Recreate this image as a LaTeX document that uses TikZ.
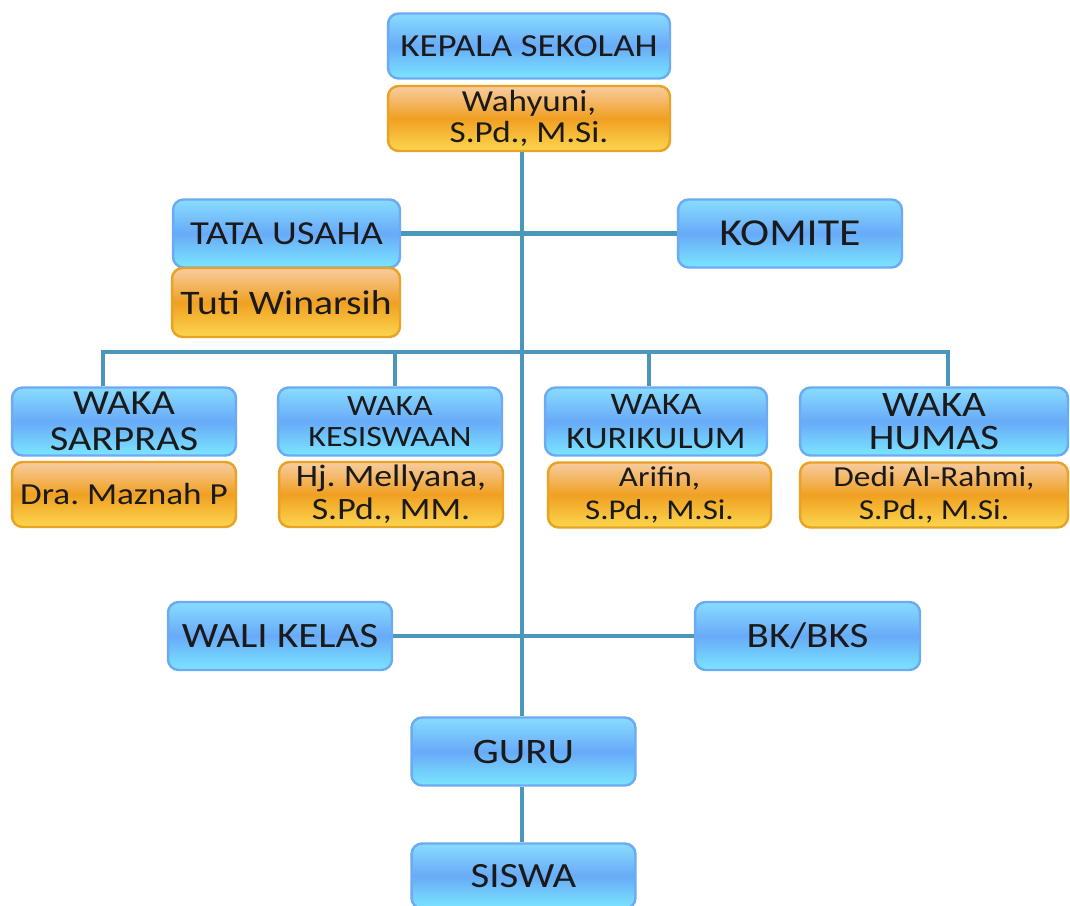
\documentclass[tikz,border=0pt]{standalone}
\usepackage{fontspec}
\setmainfont[FakeStretch=1.15]{Carlito}
\frenchspacing
\usepackage{tikz}
\usetikzlibrary{calc, positioning}
\definecolor{linkblue}{RGB}{74, 151, 187}
\definecolor{boxedge}{RGB}{108, 170, 244}
\definecolor{boxtop}{RGB}{136, 220, 255}
\definecolor{boxmid}{RGB}{104, 170, 248}
\definecolor{boxbot}{RGB}{122, 230, 255}
\definecolor{nameedge}{RGB}{232, 162, 36}
\definecolor{nametop}{RGB}{247, 204, 160}
\definecolor{namemid}{RGB}{240, 160, 34}
\definecolor{namebot}{RGB}{252, 214, 78}
\definecolor{inktext}{RGB}{26, 26, 26}

\tikzset{
    post/.style={draw=boxedge, line width=1.4pt, rounded corners=6pt, top color=boxtop, bottom color=boxbot, middle color=boxmid, text=inktext, align=center, inner sep=0pt, minimum width=4.48cm, minimum height=1.36cm, font=\fontsize{20}{20}\selectfont},
    person/.style={draw=nameedge, line width=1.4pt, rounded corners=6pt, top color=nametop, bottom color=namebot, middle color=namemid, text=inktext, align=center, inner sep=0pt, minimum width=4.48cm, minimum height=1.3cm, font=\fontsize{17}{18.5}\selectfont},
    link/.style={linkblue, line width=2.8pt}
}

\begin{document}
\begin{tikzpicture}[x=0.02cm, y=-0.02cm]
            \useasboundingbox (0,0) rectangle (1070,905);

            % top
            \node[post, minimum width=5.64cm, minimum height=1.3cm, font=\fontsize{18.3}{20}\selectfont] (kepala) at (529,46) {KEPALA SEKOLAH};
            \node[person, minimum width=5.64cm, font=\fontsize{17.4}{18}\selectfont] (wahyuni) at (529,118.5) {Wahyuni,\\S.Pd., M.Si.};

            \node[post, minimum width=4.54cm, font=\fontsize{19.1}{20}\selectfont] (tata) at (286.5,233.5) {TATA USAHA};
            \node[person, minimum width=4.56cm, minimum height=1.38cm, font=\fontsize{19.6}{20}\selectfont] (tuti) at (286,302.5) {Tuti Winarsih};
            \node[post, font=\fontsize{21.7}{22}\selectfont] (komite) at (790,233.5) {KOMITE};

            % waka row
            \node[post, font=\fontsize{20}{20.4}\selectfont] (sarpras) at (124,421.5) {WAKA\\SARPRAS};
            \node[person, font=\fontsize{17.4}{18}\selectfont] (maznah) at (124,494.5) {Dra. Maznah P};
            \node[post, font=\fontsize{16.8}{18}\selectfont] (kesiswaan) at (390,421.5) {WAKA\\KESISWAAN};
            \node[person, font=\fontsize{17.7}{18.7}\selectfont] (mellyana) at (391,494.5) {Hj. Mellyana,\\S.Pd., MM.};
            \node[post, minimum width=4.44cm, font=\fontsize{17.8}{19}\selectfont] (kurikulum) at (656,421.5) {WAKA\\KURIKULUM};
            \node[person, minimum width=4.46cm, font=\fontsize{16.3}{18.5}\selectfont] (arifin) at (659.5,495) {Arifin,\\S.Pd., M.Si.};
            \node[post, minimum width=5.36cm, font=\fontsize{20.4}{19}\selectfont] (humas) at (934,421.5) {WAKA\\HUMAS};
            \node[person, minimum width=5.36cm, font=\fontsize{16.5}{18.5}\selectfont] (dedi) at (934,495) {Dedi Al-Rahmi,\\S.Pd., M.Si.};

            % bottom
            \node[post, font=\fontsize{20.3}{22}\selectfont] (wali) at (280,636) {WALI KELAS};
            \node[post, minimum width=4.5cm, font=\fontsize{20.3}{22}\selectfont] (bk) at (807.5,636) {BK/BKS};
            \node[post, font=\fontsize{20.4}{22}\selectfont] (guru) at (523.5,751.5) {GURU};
            \node[post, minimum height=1.3cm, font=\fontsize{20.2}{22}\selectfont] (siswa) at (523.5,876) {SISWA};

            % connectors
            \coordinate (t) at (522,0);
            \coordinate (b1) at (103,352);
            \coordinate (b2) at (395,352);
            \coordinate (b3) at (649,352);
            \coordinate (b4) at (948,352);
            \draw[link] (wahyuni.south -| t) -- (guru.north -| t);
            \draw[link] (guru.south -| t) -- (siswa.north -| t);
            \draw[link] (tata.east) -- (komite.west);
            \draw[link] (wali.east) -- (bk.west);
            \draw[link] (b1 |- sarpras.north) -- (b1) -- (b4) -- (b4 |- humas.north);
            \draw[link] (b2) -- (b2 |- kesiswaan.north);
            \draw[link] (b3) -- (b3 |- kurikulum.north);
        \end{tikzpicture}
\end{document}
